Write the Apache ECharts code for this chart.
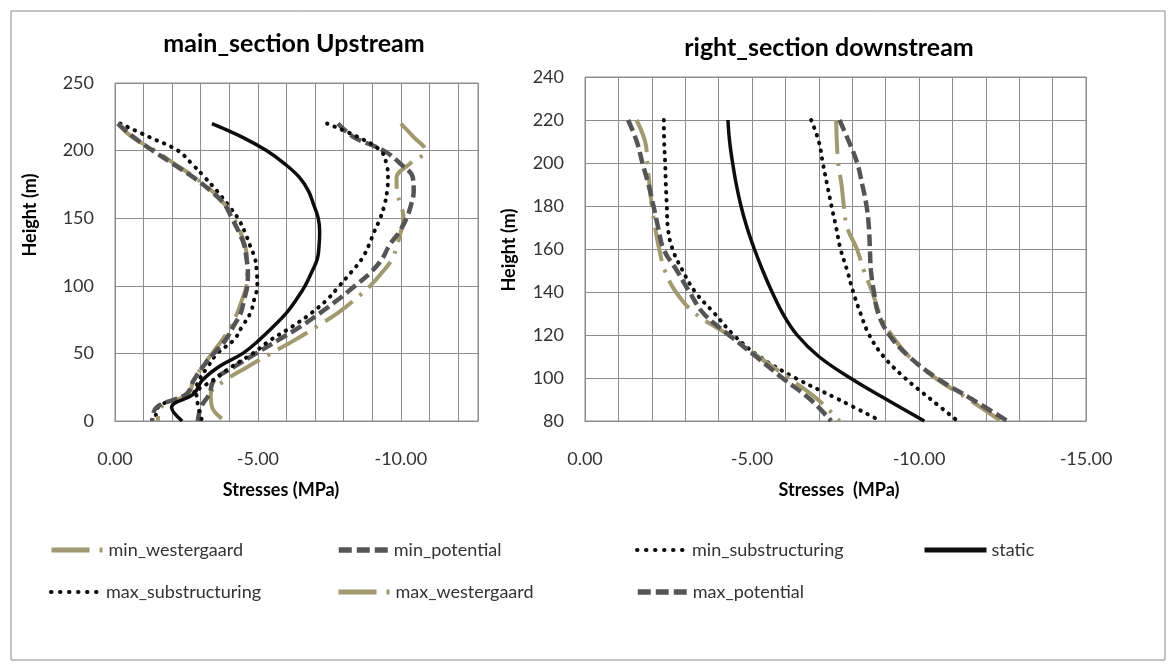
<!DOCTYPE html>
<html>
<head>
<meta charset="utf-8">
<script src="https://cdn.jsdelivr.net/npm/echarts@6/dist/echarts.min.js"></script>
<style>
html,body{margin:0;padding:0;background:#fff;}
#chart{width:1175px;height:666px;}
</style>
</head>
<body>
<div id="chart"></div>
<script>
// ---------- DATA ----------
const titles = ['main_section Upstream', 'right_section downstream'];
const seriesNames = ['min_westergaard','min_potential','min_substructuring','static','max_substructuring','max_westergaard','max_potential'];

// Left chart (main_section Upstream)
const leftHeights = [220,210,200,190,180,170,160,150,140,130,120,110,100,90,80,70,60,50,40,30,20,10,0];
const L_min_westergaard   = [-10.0,-10.45,-10.86,-10.3,-9.85,-9.86,-10.0,-10.1,-10.0,-9.87,-9.7,-9.35,-8.93,-8.4,-7.8,-7.07,-6.3,-5.45,-4.63,-3.85,-3.35,-3.4,-3.85];
const L_min_potential     = [-7.8,-8.35,-9.4,-10.0,-10.42,-10.45,-10.36,-10.2,-9.95,-9.6,-9.35,-8.95,-8.4,-7.82,-7.18,-6.5,-5.72,-4.94,-4.16,-3.46,-3.3,-3.0,-2.9];
const L_min_substructuring= [-7.42,-8.5,-9.29,-9.5,-9.55,-9.52,-9.43,-9.28,-9.07,-8.88,-8.64,-8.26,-7.85,-7.43,-6.88,-6.21,-5.45,-4.82,-4.07,-3.42,-2.85,-2.92,-3.05];
const L_static            = [-3.39,-4.45,-5.3,-5.95,-6.46,-6.77,-6.95,-7.11,-7.16,-7.14,-7.08,-6.88,-6.65,-6.35,-6.0,-5.55,-5.05,-4.47,-3.62,-3.05,-2.75,-1.98,-2.35];
const L_max_substructuring= [-0.18,-1.2,-2.2,-2.7,-3.15,-3.57,-3.95,-4.3,-4.54,-4.72,-4.9,-4.96,-4.98,-4.87,-4.74,-4.45,-4.16,-3.58,-3.24,-2.93,-2.7,-1.5,-1.42];
const L_max_westergaard   = [-0.1,-0.6,-1.4,-2.1,-2.8,-3.4,-3.85,-4.15,-4.38,-4.55,-4.62,-4.63,-4.6,-4.45,-4.28,-4.05,-3.75,-3.4,-3.05,-2.75,-2.55,-1.6,-1.5];
const L_max_potential     = [-0.1,-0.65,-1.32,-2.04,-2.76,-3.36,-3.84,-4.09,-4.33,-4.52,-4.6,-4.65,-4.63,-4.52,-4.4,-4.14,-3.87,-3.46,-3.07,-2.75,-2.5,-1.45,-1.3];

// Right chart (right_section downstream)
const rightHeights = [220,210,200,190,180,170,160,150,140,130,120,110,100,90,80];
const R_min_westergaard   = [-7.52,-7.54,-7.58,-7.68,-7.75,-7.85,-8.14,-8.35,-8.6,-8.82,-9.18,-9.7,-10.49,-11.5,-12.45];
const R_min_potential     = [-7.62,-7.9,-8.15,-8.3,-8.43,-8.5,-8.53,-8.56,-8.65,-8.78,-9.11,-9.7,-10.53,-11.6,-12.65];
const R_min_substructuring= [-6.77,-7.0,-7.12,-7.25,-7.38,-7.52,-7.65,-7.85,-8.03,-8.25,-8.51,-8.94,-9.58,-10.36,-11.16];
const R_static            = [-4.28,-4.33,-4.42,-4.53,-4.67,-4.85,-5.07,-5.32,-5.6,-5.92,-6.35,-7.0,-7.94,-9.03,-10.16];
const R_max_substructuring= [-2.36,-2.37,-2.4,-2.42,-2.45,-2.48,-2.62,-2.92,-3.3,-3.88,-4.45,-5.22,-6.3,-7.6,-8.86];
const R_max_westergaard   = [-1.54,-1.8,-1.87,-1.93,-2.0,-2.1,-2.22,-2.39,-2.72,-3.3,-4.3,-5.18,-6.1,-6.97,-7.62];
const R_max_potential     = [-1.29,-1.55,-1.72,-1.9,-2.05,-2.19,-2.35,-2.75,-3.13,-3.55,-4.31,-5.12,-5.91,-6.75,-7.37];

// Axis ranges / ticks
const leftXRange = [-12.7, 0];
const rightXRange = [-15, 0];
const leftYRange = [0, 250, 50];
const rightYRange = [80, 240, 20];
const xLabelStep = 5;

// ---------- STYLES ----------
const FONT = 'Lato';
const OLIVE = '#a1996f';
const DGRAY = '#555555';
const BLACK = '#0d0d0d';
const GRID = '#8c8c8c';
const styles = {
  min_westergaard:   {color: OLIVE, width: 4, type: [34, 9, 3, 9], cap: 'butt'},
  max_westergaard:   {color: OLIVE, width: 4, type: [34, 9, 3, 9], cap: 'butt'},
  min_potential:     {color: DGRAY, width: 4.5, type: [12, 5], cap: 'butt'},
  max_potential:     {color: DGRAY, width: 4.5, type: [12, 5], cap: 'butt'},
  min_substructuring:{color: BLACK, width: 4, type: [0.5, 7.5], cap: 'round'},
  max_substructuring:{color: BLACK, width: 4, type: [0.5, 7.5], cap: 'round'},
  static:            {color: BLACK, width: 3.5, type: 'solid', cap: 'butt'}
};
const legendLine = {
  min_westergaard:   {type: [38, 10, 3, 40], width: 5},
  max_westergaard:   {type: [38, 10, 3, 40], width: 5},
  min_potential:     {type: [13, 5], width: 5.5},
  max_potential:     {type: [13, 5], width: 5.5},
  min_substructuring:{type: [0.5, 8.5], width: 4},
  max_substructuring:{type: [0.5, 8.5], width: 4},
  static:            {type: 'solid', width: 5}
};

const leftSets = {
  min_westergaard: L_min_westergaard, min_potential: L_min_potential, min_substructuring: L_min_substructuring,
  static: L_static, max_substructuring: L_max_substructuring, max_westergaard: L_max_westergaard, max_potential: L_max_potential
};
const rightSets = {
  min_westergaard: R_min_westergaard, min_potential: R_min_potential, min_substructuring: R_min_substructuring,
  static: R_static, max_substructuring: R_max_substructuring, max_westergaard: R_max_westergaard, max_potential: R_max_potential
};

function mkSeries(name, xs, hs, idx) {
  const s = styles[name];
  return {
    name: name, type: 'line', xAxisIndex: idx, yAxisIndex: idx,
    data: hs.map((h, i) => [xs[i], h]),
    smooth: 0.4, showSymbol: false, symbol: 'none',
    lineStyle: {color: s.color, width: s.width, type: s.type, cap: s.cap},
    itemStyle: {color: s.color},
    z: name === 'static' ? 3 : 2,
    silent: true
  };
}

const series = [];
seriesNames.forEach(n => series.push(mkSeries(n, leftSets[n], leftHeights, 0)));
seriesNames.forEach(n => series.push(mkSeries(n, rightSets[n], rightHeights, 1)));

const labelText = {color: '#333', fontFamily: FONT, fontSize: 18};

function xAxisCfg(idx, range) {
  return {
    gridIndex: idx, type: 'value', inverse: true,
    min: range[0], max: range[1], minInterval: 1, maxInterval: 1, splitNumber: 15,
    axisLine: {show: true, onZero: false, lineStyle: {color: GRID, width: 1}},
    axisTick: {show: false},
    splitLine: {show: true, lineStyle: {color: GRID, width: 1}},
    axisLabel: Object.assign({
      margin: 29,
      showMinLabel: true, showMaxLabel: true, hideOverlap: false,
      formatter: v => (Math.abs(Math.round(v) - v) < 1e-6 && Math.round(v) % xLabelStep === 0) ? v.toFixed(2) : ''
    }, labelText)
  };
}
function yAxisCfg(idx, r) {
  return {
    gridIndex: idx, type: 'value', min: r[0], max: r[1], interval: r[2],
    axisLine: {show: false}, axisTick: {show: false},
    splitLine: {show: true, lineStyle: {color: GRID, width: 1}},
    axisLabel: Object.assign({margin: 21}, labelText)
  };
}

// legend layout
const legendLayout = [
  {name: 'min_westergaard',    left: 49,  top: 541, w: 52},
  {name: 'min_potential',      left: 336, top: 541, w: 50},
  {name: 'min_substructuring', left: 635, top: 541, w: 50},
  {name: 'static',             left: 922, top: 541, w: 62},
  {name: 'max_substructuring', left: 49,  top: 583, w: 50},
  {name: 'max_westergaard',    left: 336, top: 583, w: 52},
  {name: 'max_potential',      left: 635, top: 583, w: 50}
];
const legends = legendLayout.map(l => ({
  data: [{name: l.name, lineStyle: {type: legendLine[l.name].type, width: legendLine[l.name].width, color: styles[l.name].color, cap: styles[l.name].cap}, itemStyle: {opacity: 0}}],
  left: l.left, top: l.top, itemWidth: l.w, itemHeight: 14, padding: 0,
  selectedMode: false,
  itemStyle: {opacity: 0, borderWidth: 0},
  textStyle: {color: '#333', fontFamily: FONT, fontSize: 18}
}));

const option = {
  animation: false,
  backgroundColor: '#fff',
  title: [
    {text: titles[0], left: 289, top: 26, textAlign: 'center', textStyle: {fontFamily: FONT, fontWeight: 'bold', fontSize: 25, color: '#000'}},
    {text: titles[1], left: 824, top: 30, textAlign: 'center', textStyle: {fontFamily: FONT, fontWeight: 'bold', fontSize: 25, color: '#000'}}
  ],
  legend: legends,
  grid: [
    {left: 115, top: 83, width: 363, height: 338, show: true, borderColor: GRID, borderWidth: 1, backgroundColor: 'transparent', containLabel: false},
    {left: 585, top: 77, width: 501, height: 344, show: true, borderColor: GRID, borderWidth: 1, backgroundColor: 'transparent', containLabel: false}
  ],
  xAxis: [xAxisCfg(0, leftXRange), xAxisCfg(1, rightXRange)],
  yAxis: [yAxisCfg(0, leftYRange), yAxisCfg(1, rightYRange)],
  graphic: [
    {type: 'rect', shape: {x: 11, y: 11, width: 1154, height: 649}, style: {fill: 'none', stroke: '#8a8a8a', lineWidth: 1}, silent: true, z: -1},
    {type: 'text', x: 30, y: 215, rotation: Math.PI / 2, style: {text: 'Height (m)', x: 0, y: 0, align: 'center', verticalAlign: 'middle', textAlign: 'center', textVerticalAlign: 'middle', font: 'bold 18px ' + FONT, fill: '#000'}},
    {type: 'text', x: 509, y: 250, rotation: Math.PI / 2, style: {text: 'Height (m)', x: 0, y: 0, align: 'center', verticalAlign: 'middle', textAlign: 'center', textVerticalAlign: 'middle', font: 'bold 18px ' + FONT, fill: '#000'}},
    {type: 'text', x: 281, y: 490, style: {text: 'Stresses (MPa)', x: 0, y: 0, align: 'center', verticalAlign: 'middle', textAlign: 'center', textVerticalAlign: 'middle', font: 'bold 18px ' + FONT, fill: '#000'}},
    {type: 'text', x: 839, y: 490, style: {text: 'Stresses  (MPa)', x: 0, y: 0, align: 'center', verticalAlign: 'middle', textAlign: 'center', textVerticalAlign: 'middle', font: 'bold 18px ' + FONT, fill: '#000'}}
  ],
  series: series
};

const chart = echarts.init(document.getElementById('chart'), null, {renderer: 'canvas'});
chart.setOption(option);
</script>
</body>
</html>
